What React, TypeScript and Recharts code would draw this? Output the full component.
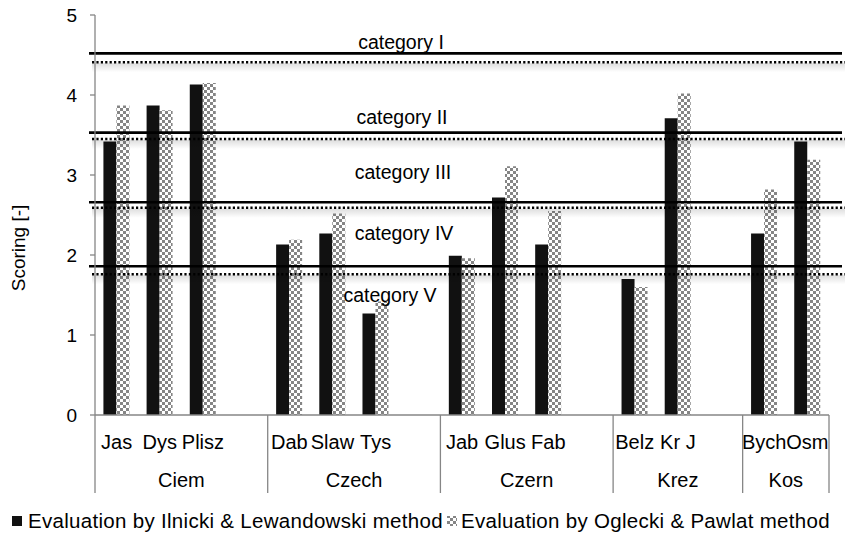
import React from 'react';
import { BarChart, Bar, XAxis, YAxis, ReferenceLine, Legend } from 'recharts';

// ---------- data ----------
const groups = ['Ciem', 'Czech', 'Czern', 'Krez', 'Kos'];
const groupSites = [
  ['Jas', 'Dys', 'Plisz', ''],
  ['Dab', 'Slaw', 'Tys', ''],
  ['Jab', 'Glus', 'Fab', ''],
  ['Belz', 'Kr J', ''],
  ['Bych', 'Osm'],
];
const ilnickiValues: (number | null)[] = [
  3.42, 3.87, 4.13, null,
  2.13, 2.27, 1.27, null,
  1.99, 2.72, 2.13, null,
  1.70, 3.71, null,
  2.27, 3.42,
];
const ogleckiValues: (number | null)[] = [
  3.87, 3.81, 4.15, null,
  2.19, 2.52, 1.42, null,
  1.96, 3.11, 2.55, null,
  1.60, 4.02, null,
  2.82, 3.19,
];
const yTicks = [0, 1, 2, 3, 4, 5];
const categoryNames = ['category I', 'category II', 'category III', 'category IV', 'category V'];
const categoryLabelLevels = [4.66, 3.725, 3.04, 2.275, 1.5];
const solidThresholds = [4.52, 3.53, 2.66, 1.86];
const dottedThresholds = [4.41, 3.45, 2.59, 1.76];
const seriesNames = ['Evaluation by Ilnicki & Lewandowski method', 'Evaluation by Oglecki & Pawlat method'];

// ---------- table built from arrays ----------
type Row = { key: string; site: string; group: string; first: boolean; span: number; il: number | null; og: number | null };
const rows: Row[] = [];
{
  let k = 0;
  groupSites.forEach((sites, gi) => {
    sites.forEach((s, si) => {
      rows.push({
        key: `${groups[gi]}-${si}`,
        site: s,
        group: groups[gi],
        first: si === 0,
        span: sites.length,
        il: ilnickiValues[k],
        og: ogleckiValues[k],
      });
      k++;
    });
  });
}

// ---------- styles ----------
const W = 846;
const H = 536;
const FONT = 'Liberation Sans, Arial, sans-serif';
const AXIS = '#868686';
const MARGIN = { top: 15, right: 17, left: 0, bottom: 0 };
const Y_W = 95;
const PLOT_W = W - MARGIN.right - Y_W;
const labelCenterX = [401, 402, 403, 404, 390];

const SiteTick = (props: any) => {
  const { x, y, payload } = props;
  const i = rows.findIndex((r) => r.key === payload.value);
  if (i < 0) return null;
  const r = rows[i];
  const band = payload && payload.offset > 0 ? payload.offset * 2 : PLOT_W / rows.length;
  const left = x - band / 2;
  const top = y;
  return (
    <g>
      {r.site ? (
        <text x={x} y={top + 33.5} textAnchor="middle" fontSize={20} fontFamily={FONT} fill="#000">
          {r.site}
        </text>
      ) : null}
      {r.first ? <line x1={left} x2={left} y1={top} y2={top + 78} stroke={AXIS} strokeWidth={1.3} /> : null}
      {r.first ? (
        <text x={left + (r.span * band) / 2} y={top + 72} textAnchor="middle" fontSize={20} fontFamily={FONT} fill="#000">
          {r.group}
        </text>
      ) : null}
      {i === rows.length - 1 ? (
        <line x1={left + band} x2={left + band} y1={top} y2={top + 78} stroke={AXIS} strokeWidth={1.3} />
      ) : null}
    </g>
  );
};

const SolidShape = (p: any) => (
  <line x1={p.x1 - 6} x2={p.x2 + 13} y1={p.y1} y2={p.y2} stroke="#000" strokeWidth={2.6} />
);

const DottedShape = (p: any) => (
  <g>
    <rect x={p.x1 - 3} y={p.y1 + 1} width={p.x2 - p.x1 + 19} height={9} fill="url(#lineShadow)" />
    <line x1={p.x1 - 3} x2={p.x2 + 16} y1={p.y1} y2={p.y2} stroke="#000" strokeWidth={2.4} strokeDasharray="2.2 2.2" />
  </g>
);

const makeLabelShape = (idx: number) => (p: any) => (
  <text x={labelCenterX[idx]} y={p.y1} dy="0.35em" textAnchor="middle" fontSize={19.5} fontFamily={FONT} fill="#000">
    {categoryNames[idx]}
  </text>
);

const LegendContent = () => (
  <svg width={W} height={36} style={{ display: 'block' }}>
    <rect x={12} y={16} width={10} height={10} fill="#111" />
    <text x={28} y={28} fontSize={20.5} fontFamily={FONT} fill="#000" letterSpacing={0.3}>
      {seriesNames[0]}
    </text>
    <rect x={447} y={16} width={10} height={10} fill="url(#checker)" />
    <text x={461} y={28} fontSize={20.5} fontFamily={FONT} fill="#000" letterSpacing={0.3}>
      {seriesNames[1]}
    </text>
  </svg>
);

const YLabel = (props: any) => {
  const vb = props.viewBox || { x: 0, y: 15, width: 95, height: 400 };
  const cx = vb.x + 18;
  const cy = vb.y + vb.height / 2 + 33;
  return (
    <text x={cx} y={cy} transform={`rotate(-90 ${cx} ${cy})`} textAnchor="middle" dy="0.35em" fontSize={19} fontFamily={FONT} fill="#000">
      Scoring [-]
    </text>
  );
};

export default function App() {
  return (
    <div style={{ position: 'absolute', left: 0, top: 0, width: W, height: H, background: '#fff' }}>
      <BarChart width={W} height={H} data={rows} margin={MARGIN} barCategoryGap="19.5%" barGap={0}>
        <defs>
          <pattern id="checker" width="6" height="6" patternUnits="userSpaceOnUse">
            <rect width="6" height="6" fill="#ffffff" />
            <rect x="0" y="0" width="3" height="3" fill="#858585" />
            <rect x="3" y="3" width="3" height="3" fill="#858585" />
          </pattern>
          <linearGradient id="lineShadow" x1="0" y1="0" x2="0" y2="1">
            <stop offset="0" stopColor="#000" stopOpacity="0.13" />
            <stop offset="1" stopColor="#000" stopOpacity="0" />
          </linearGradient>
        </defs>
        <XAxis
          dataKey="key"
          interval={0}
          tick={<SiteTick />}
          tickLine={false}
          tickSize={0}
          tickMargin={0}
          axisLine={{ stroke: AXIS, strokeWidth: 1.3 }}
          height={85}
        />
        <YAxis
          domain={[0, 5]}
          ticks={yTicks}
          width={Y_W}
          tickSize={5}
          tickMargin={13}
          axisLine={{ stroke: AXIS, strokeWidth: 1.3 }}
          tickLine={{ stroke: AXIS, strokeWidth: 1.3 }}
          tick={{ fontSize: 19, fill: '#000', fontFamily: FONT }}
          label={<YLabel />}
        />
        <Bar dataKey="il" fill="#111111" isAnimationActive={false} />
        <Bar dataKey="og" fill="url(#checker)" isAnimationActive={false} />
        {dottedThresholds.map((v, i) => (
          <ReferenceLine key={`d${i}`} y={v} shape={DottedShape} />
        ))}
        {solidThresholds.map((v, i) => (
          <ReferenceLine key={`s${i}`} y={v} shape={SolidShape} />
        ))}
        {categoryLabelLevels.map((v, i) => (
          <ReferenceLine key={`l${i}`} y={v} shape={makeLabelShape(i)} />
        ))}
        <Legend verticalAlign="bottom" height={36} wrapperStyle={{ left: 0, width: W, bottom: 0 }} content={<LegendContent />} />
      </BarChart>
    </div>
  );
}
